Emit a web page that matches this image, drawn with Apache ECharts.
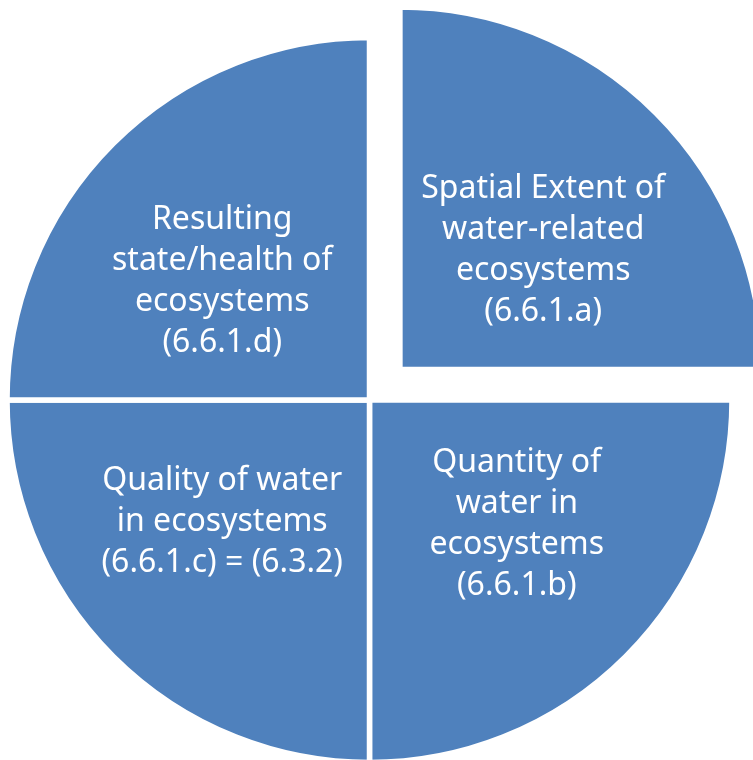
<!DOCTYPE html>
<html>
<head>
<meta charset="utf-8">
<script src="https://cdn.jsdelivr.net/npm/echarts@6/dist/echarts.min.js"></script>
<style>
  html, body { margin: 0; padding: 0; background: #fff; }
  #main { width: 753px; height: 760px; }
</style>
</head>
<body>
<div id="main"></div>
<script>
// quadrants, clockwise from 12 o'clock
const labels = [
  'Spatial Extent of\nwater-related\necosystems\n(6.6.1.a)',
  'Quantity of\nwater in\necosystems\n(6.6.1.b)',
  'Quality of water\nin ecosystems\n(6.6.1.c) = (6.3.2)',
  'Resulting\nstate/health of\necosystems\n(6.6.1.d)'
]
const values = [25, 25, 25, 25]
const exploded = [true, false, false, false]
// small nudges off the default inside spot
const labelShift = [[13, 11], [17, -6], [-17, -8], [-17, 12]]

const chart = echarts.init(document.getElementById('main'))
chart.setOption({
  animation: false,
  series: [{
    type: 'pie',
    center: [369.5, 400],
    radius: [0, 362.5],
    startAngle: 90,
    clockwise: true,
    silent: true,
    selectedMode: 'multiple',
    selectedOffset: 43,
    itemStyle: { color: '#4F81BD', borderColor: '#fff', borderWidth: 5.5 },
    label: {
      show: true,
      position: 'inside',
      color: '#fff',
      fontFamily: 'Noto Sans',
      fontSize: 32,
      lineHeight: 41,
      align: 'center',
      formatter: p => p.name
    },
    labelLine: { show: false },
    labelLayout: p => ({ dx: labelShift[p.dataIndex][0], dy: labelShift[p.dataIndex][1] }),
    data: labels.map((l, i) => ({ name: l, value: values[i], selected: exploded[i] }))
  }]
})
</script>
</body>
</html>
